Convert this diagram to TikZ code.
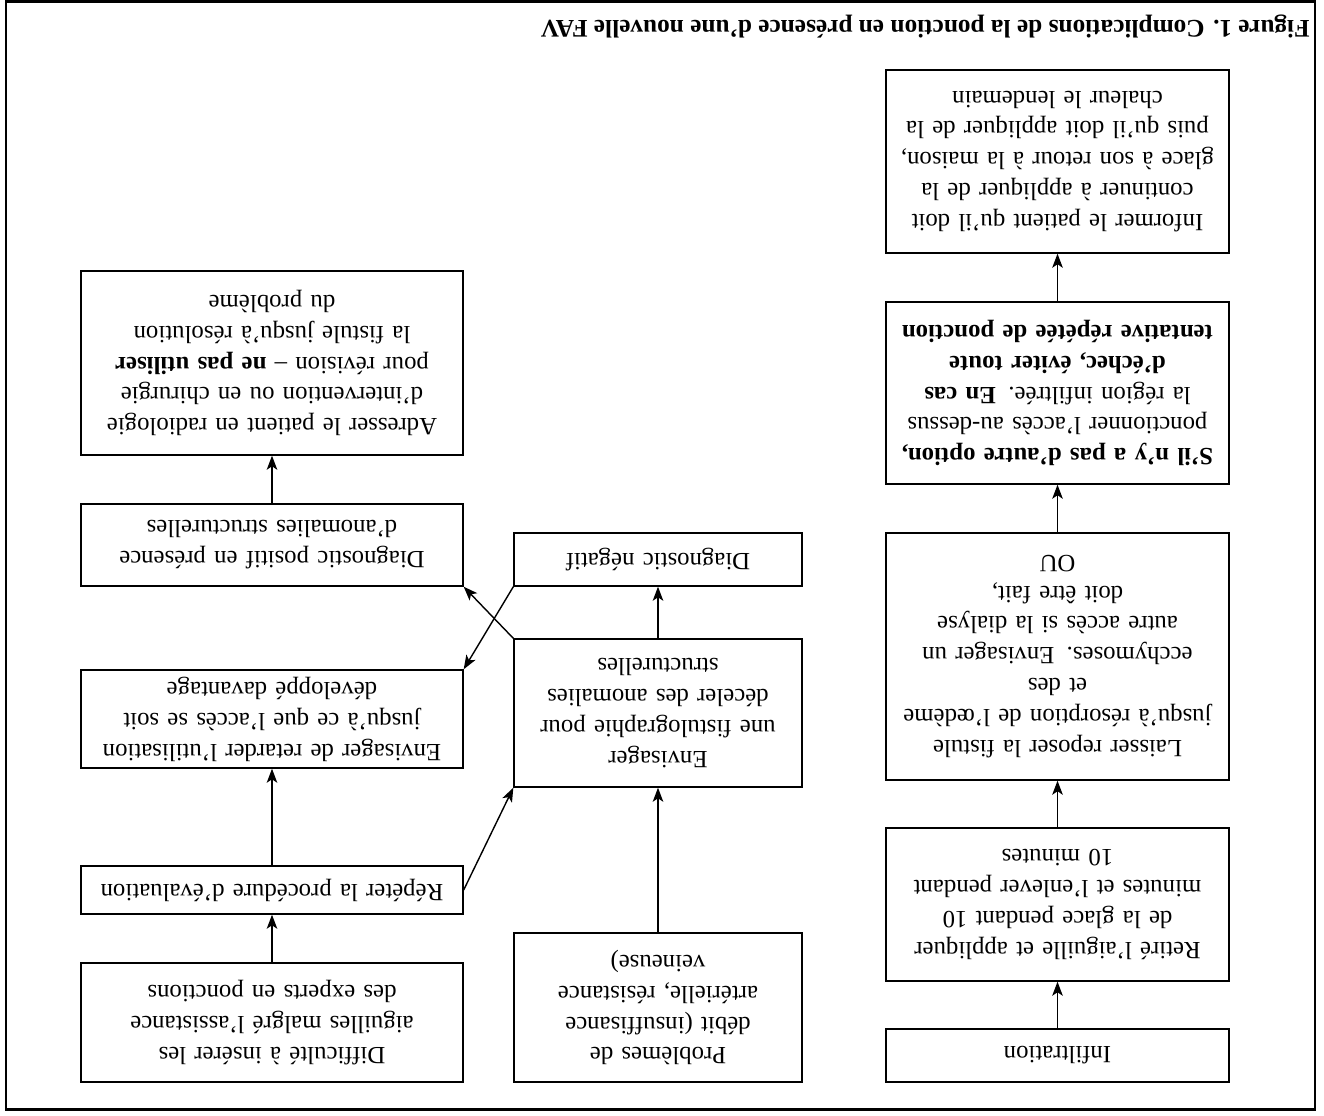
\documentclass[tikz,border=0pt]{standalone}
\usepackage{fontspec}
\setmainfont{Liberation Serif}
\usetikzlibrary{arrows.meta}
\begin{document}
\begin{tikzpicture}[x=0.02cm, y=-0.02cm,
  box/.style={draw, line width=0.8pt, rotate=180, inner sep=0pt, align=center,
    font=\fontsize{14.1}{17.6}\selectfont},
  colR/.style={box, text width=6.86cm},
  colM/.style={box, text width=5.76cm},
  colL/.style={box, text width=7.64cm},
  arr/.style={line width=0.8pt, -{Stealth[length=8pt,width=6pt,inset=2pt]}}]
\useasboundingbox (0,0) rectangle (1324,1115);
\draw[line width=1.5pt] (6,1.5) rectangle (1315,1109.5);

\node[rotate=180, anchor=base west, inner sep=0pt,
  font=\fontsize{14.4}{17.6}\selectfont\bfseries] (title) at (1310,21)
  {Figure 1. Complications de la ponction en présence d’une nouvelle FAV};

% right column
\node[colR, minimum height=1.06cm] (infil) at (1057.5,1055.5) {Infiltration};
\node[colR, minimum height=3.06cm] (retire) at (1057.5,904.5)
  {Retiré l’aiguille et appliquer\\de la glace pendant 10\\minutes et l’enlever pendant\\10 minutes};
\node[colR, minimum height=4.94cm] (laisser) at (1057.5,656.5)
  {Laisser reposer la fistule\\jusqu’à résorption de l’œdème\\et des\\ecchymoses. Envisager un\\autre accès si la dialyse\\doit être fait,\\OU};
\node[colR, minimum height=3.64cm] (silny) at (1057.5,393)
  {\textbf{S’il n’y a pas d’autre option,}\\ponctionner l’accès au-dessus\\la région infiltrée. \textbf{En cas}\\\textbf{d’échec, éviter toute}\\\textbf{tentative répétée de ponction}};
\node[colR, minimum height=3.66cm] (informer) at (1057.5,161.5)
  {Informer le patient qu’il doit\\continuer à appliquer de la\\glace à son retour à la maison,\\puis qu’il doit appliquer de la\\chaleur le lendemain};

% middle column
\node[colM, minimum height=2.98cm] (probl) at (658,1007.5)
  {Problèmes de\\débit (insuffisance\\artérielle, résistance\\veineuse)};
\node[colM, minimum height=2.96cm] (fistulo) at (658,713)
  {Envisager\\une fistulographie pour\\déceler des anomalies\\structurelles};
\node[colM, minimum height=1.06cm] (negatif) at (658,559.5) {Diagnostic négatif};

% left column
\node[colL, minimum height=2.38cm] (diffic) at (272,1022.5)
  {Difficulté à insérer les\\aiguilles malgré l’assistance\\des experts en ponctions};
\node[colL, minimum height=0.96cm] (repeter) at (272,890) {Répéter la procédure d’évaluation};
\node[colL, minimum height=1.96cm] (retarder) at (272,719)
  {Envisager de retarder l’utilisation\\jusqu’à ce que l’accès se soit\\développé davantage};
\node[colL, minimum height=1.64cm] (positif) at (272,545)
  {Diagnostic positif en présence\\d’anomalies structurelles};
\node[colL, minimum height=3.68cm] (adresser) at (272,363)
  {Adresser le patient en radiologie\\d’intervention ou en chirurgie\\pour révision – \textbf{ne pas utiliser}\\la fistule jusqu’à résolution\\du problème};

% connectors
\draw[arr] (infil) -- (retire);
\draw[arr] (retire) -- (laisser);
\draw[arr] (laisser) -- (silny);
\draw[arr] (silny) -- (informer);
\draw[arr] (probl) -- (fistulo);
\draw[arr] (fistulo) -- (negatif);
\draw[arr] (diffic) -- (repeter);
\draw[arr] (repeter) -- (retarder);
\draw[arr] (positif) -- (adresser);
\draw[arr] (repeter.west) -- (fistulo.north east);
\draw[arr] (fistulo.south east) -- (positif.north west);
\draw[arr] (negatif.north east) -- (retarder.south west);
\end{tikzpicture}
\end{document}
